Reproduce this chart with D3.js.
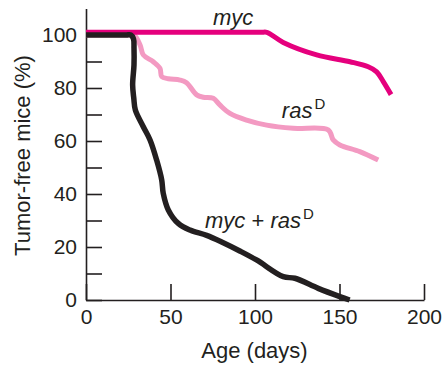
<!DOCTYPE html>
<html><head><meta charset="utf-8">
<script src="https://cdn.jsdelivr.net/npm/d3@7"></script>
<style>
html,body{margin:0;padding:0;background:#fff;}
svg{display:block;font-family:"Liberation Sans",Arial,sans-serif;}
</style></head>
<body><svg id="c" width="444" height="367"></svg>
<script>
// Data (day, % tumor-free)
const mycDays   = [0, 50, 100, 104, 107, 116.7, 136.5, 156.2, 167, 172, 175.9, 180.5];
const mycValues = [101, 101, 101, 101, 101, 97.2, 92.5, 89.9, 88, 86.1, 82.4, 77.5];

const rasDays   = [0, 20, 26, 28.5, 32, 33.9, 39.8, 43.8, 44.8, 48.7, 55.6, 59.5, 65.5, 69.4, 75.3, 79.2, 85.2, 95, 106.9, 122.6, 143.3, 146.3, 150.2, 162, 172.9];
const rasValues = [100, 100, 100, 100, 96.2, 92.5, 89.9, 87.4, 84.3, 83.5, 83, 82, 77.4, 76.5, 76.1, 73.6, 70.4, 67.9, 66, 64.8, 64.2, 60.4, 58.5, 56, 52.8];

const bothDays   = [0, 15, 24, 26.5, 28.1, 28.4, 28.4, 27.6, 28.3, 29.2, 33.9, 37.9, 41.8, 44.8, 45.7, 48.7, 54.6, 61.5, 71.4, 81.2, 91, 100.9, 116.7, 123.6, 137.4, 150.2, 156];
const bothValues = [100, 100, 100, 100, 98.5, 95, 88.7, 81.1, 76, 71.7, 65.4, 60.4, 52.8, 45.3, 40.3, 34, 28.9, 26.4, 24.4, 21.6, 18.5, 15.1, 8.8, 8.2, 4.4, 1.3, 0];

const xTicks = [0, 50, 100, 150, 200];
const yTicks = [0, 10, 20, 30, 40, 50, 60, 70, 80, 90, 100];
const yLabelTicks = [0, 20, 40, 60, 80, 100];

const seriesNames = ["myc", "rasD", "myc + rasD"];
const seriesColors = ["#e5007d", "#f39ac2", "#231f20"];

const svg = d3.select("#c");
const ink = "#231f20";

const x = d3.scaleLinear().domain([0, 200]).range([86, 424]);
const y = d3.scaleLinear().domain([0, 110]).range([300, 8.5]);

// axes
const gx = svg.append("g").attr("transform", `translate(0,${y(0)})`)
  .call(d3.axisBottom(x).tickValues(xTicks).tickSizeInner(-16).tickSizeOuter(0).tickPadding(9));
const gy = svg.append("g").attr("transform", `translate(${x(0)},0)`)
  .call(d3.axisLeft(y).tickValues(yTicks).tickSizeInner(-16).tickSizeOuter(0).tickPadding(9)
    .tickFormat(d => yLabelTicks.includes(d) ? d : ""));
[gx, gy].forEach(g => {
  g.selectAll("path.domain").attr("stroke", ink).attr("stroke-width", 1.6);
  g.selectAll(".tick line").attr("stroke", ink).attr("stroke-width", 1.6);
  g.selectAll(".tick text").attr("fill", ink).style("font-size", "21px")
    .style("font-family", '"Liberation Sans",Arial,sans-serif');
});

// lines
const line = d3.line().x(d => x(d[0])).y(d => y(d[1])).curve(d3.curveCatmullRom.alpha(0.5));
const series = [
  d3.zip(mycDays, mycValues),
  d3.zip(rasDays, rasValues),
  d3.zip(bothDays, bothValues)
];
const widths = [5, 5, 5.5];
[1, 0, 2].forEach(i => {
  svg.append("path").datum(series[i]).attr("d", line)
    .attr("fill", "none").attr("stroke", seriesColors[i])
    .attr("stroke-width", widths[i]).attr("stroke-linejoin", "round").attr("stroke-linecap", "butt");
});

// series labels (anchored in data coordinates)
const labelPos = [[75.1, 103.8], [115.9, 68.6], [70.4, 27.1]];
function label(i, parts) {
  const t = svg.append("text").attr("x", x(labelPos[i][0])).attr("y", y(labelPos[i][1]))
    .attr("fill", ink).style("font-size", "22px");
  parts.forEach(p => {
    const s = t.append("tspan").text(p.t);
    if (p.it) s.style("font-style", "italic");
    if (p.sup) s.style("font-size", "15px").attr("dy", "-9").attr("dx", "2");
  });
}
label(0, [{t: "myc", it: true}]);
label(1, [{t: "ras", it: true}, {t: "D", sup: true}]);
label(2, [{t: "myc", it: true}, {t: " + "}, {t: "ras", it: true}, {t: "D", sup: true}]);

// axis titles
svg.append("text").attr("x", 254.5).attr("y", 358).attr("text-anchor", "middle")
  .attr("fill", ink).style("font-size", "22px").text("Age (days)");
svg.append("text").attr("transform", "translate(30,155.5) rotate(-90)").attr("text-anchor", "middle")
  .attr("fill", ink).style("font-size", "22px").text("Tumor-free mice (%)");
</script></body></html>
